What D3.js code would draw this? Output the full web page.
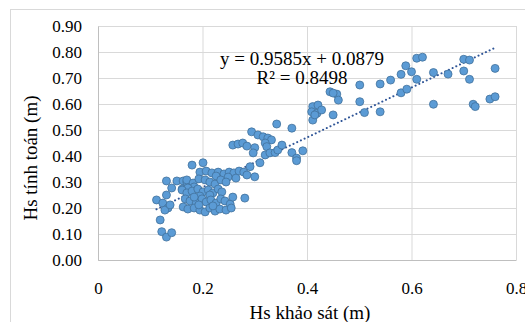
<!DOCTYPE html>
<html>
<head>
<meta charset="utf-8">
<script src="https://cdn.jsdelivr.net/npm/d3@7"></script>
<style>
  html, body { margin: 0; padding: 0; background: #fff; }
  svg { display: block; }
  .tick text, .label { font-family: "Liberation Serif", "Times New Roman", serif; fill: #000; }
</style>
</head>
<body>
<svg id="chart" width="525" height="322"></svg>
<script>
const hsSurvey = [
  0.131, 0.151, 0.163, 0.141, 0.161, 0.131, 0.112, 0.124, 0.134, 0.128, 0.163, 0.119, 0.122, 0.131, 0.141, 0.138, 0.170,
  0.180, 0.201, 0.195, 0.207, 0.218, 0.230, 0.241, 0.251, 0.260, 0.270, 0.279, 0.285, 0.249, 0.264, 0.226,
  0.170, 0.182, 0.193, 0.205, 0.214, 0.224, 0.235, 0.245, 0.184, 0.172,
  0.161, 0.170, 0.180, 0.191, 0.201, 0.211, 0.220, 0.230, 0.237, 0.195, 0.214,
  0.167, 0.176, 0.188, 0.199, 0.207, 0.216, 0.226, 0.235, 0.243, 0.253, 0.258, 0.281, 0.184,
  0.172, 0.184, 0.195, 0.205, 0.214, 0.224, 0.233, 0.245, 0.255, 0.193, 0.220,
  0.291, 0.310, 0.300, 0.258, 0.268, 0.277, 0.285, 0.300, 0.297, 0.294, 0.306, 0.316, 0.325, 0.332,
  0.320, 0.323, 0.342, 0.371, 0.320, 0.329, 0.339, 0.344, 0.352, 0.371, 0.380, 0.380, 0.392,
  0.411, 0.421, 0.409, 0.419, 0.428, 0.411, 0.450, 0.444, 0.457, 0.460, 0.415, 0.450,
  0.501, 0.501, 0.510, 0.540, 0.540, 0.560, 0.580, 0.589, 0.600, 0.610, 0.580, 0.591, 0.610, 0.621,
  0.642, 0.642, 0.670, 0.700, 0.700, 0.711, 0.711, 0.718, 0.722, 0.750, 0.760, 0.760
];
const hsComputed = [
  0.304, 0.304, 0.304, 0.277, 0.273, 0.250, 0.231, 0.219, 0.200, 0.192, 0.204, 0.154, 0.109, 0.088, 0.105, 0.212, 0.300,
  0.365, 0.374, 0.338, 0.342, 0.335, 0.338, 0.331, 0.338, 0.335, 0.342, 0.338, 0.327, 0.319, 0.315, 0.323,
  0.308, 0.296, 0.312, 0.308, 0.300, 0.292, 0.308, 0.300, 0.281, 0.277,
  0.269, 0.258, 0.265, 0.273, 0.262, 0.269, 0.258, 0.273, 0.262, 0.246, 0.250,
  0.235, 0.227, 0.219, 0.235, 0.223, 0.231, 0.219, 0.235, 0.227, 0.215, 0.242, 0.238, 0.242,
  0.196, 0.200, 0.192, 0.185, 0.200, 0.188, 0.196, 0.192, 0.200, 0.212, 0.208,
  0.359, 0.374, 0.320, 0.442, 0.446, 0.450, 0.438, 0.432, 0.412, 0.493, 0.481, 0.474, 0.469, 0.462,
  0.450, 0.436, 0.523, 0.507, 0.404, 0.412, 0.413, 0.423, 0.442, 0.413, 0.392, 0.382, 0.420,
  0.590, 0.596, 0.570, 0.564, 0.577, 0.538, 0.558, 0.647, 0.638, 0.615, 0.558, 0.642,
  0.673, 0.609, 0.567, 0.570, 0.677, 0.692, 0.714, 0.747, 0.724, 0.695, 0.643, 0.657, 0.776, 0.780,
  0.721, 0.599, 0.715, 0.727, 0.772, 0.769, 0.695, 0.599, 0.590, 0.619, 0.628, 0.737
];
const xTicks = [0, 0.2, 0.4, 0.6, 0.8];
const yTicks = [0, 0.1, 0.2, 0.3, 0.4, 0.5, 0.6, 0.7, 0.8, 0.9];
const trendSlope = 0.9585;
const trendIntercept = 0.0879;
const equationLabel = "y = 0.9585x + 0.0879";
const r2Label = "R² = 0.8498";
const xTitle = "Hs khảo sát (m)";
const yTitle = "Hs tính toán (m)";

const points = hsSurvey.map((x, i) => ({x: x, y: hsComputed[i]}));

const svg = d3.select('#chart');
const margin = {left: 98, top: 26, right: 516, bottom: 260};

const xScale = d3.scaleLinear().domain([0, 0.8]).range([margin.left, margin.right]);
const yScale = d3.scaleLinear().domain([0, 0.9]).range([margin.bottom, margin.top]);

// outer chart frame
svg.append('rect')
  .attr('x', 10.5).attr('y', 9.5)
  .attr('width', 600).attr('height', 400)
  .attr('fill', '#fff')
  .attr('stroke', '#d9d9d9');

// gridlines
svg.append('g')
  .attr('transform', `translate(0,${margin.bottom})`)
  .call(d3.axisBottom(xScale).tickValues(xTicks).tickSize(-(margin.bottom - margin.top)).tickFormat(''))
  .call(g => g.select('.domain').remove())
  .call(g => g.selectAll('line').attr('stroke', '#d9d9d9'));

svg.append('g')
  .attr('transform', `translate(${margin.left},0)`)
  .call(d3.axisLeft(yScale).tickValues(yTicks).tickSize(-(margin.right - margin.left)).tickFormat(''))
  .call(g => g.select('.domain').remove())
  .call(g => g.selectAll('line').attr('stroke', '#d9d9d9'));

// axes
const xAxis = svg.append('g')
  .attr('transform', `translate(0,${margin.bottom})`)
  .call(d3.axisBottom(xScale).tickValues(xTicks).tickSize(0).tickPadding(22).tickFormat(d => d === 0 ? '0' : d3.format('.1f')(d)));
xAxis.select('.domain').attr('stroke', '#bfbfbf');
xAxis.selectAll('text').attr('font-size', 17);

const yAxis = svg.append('g')
  .attr('transform', `translate(${margin.left},0)`)
  .call(d3.axisLeft(yScale).tickValues(yTicks).tickSize(0).tickPadding(16).tickFormat(d3.format('.2f')));
yAxis.select('.domain').attr('stroke', '#bfbfbf');
yAxis.selectAll('text').attr('font-size', 17);

// trendline
const xExtent = d3.extent(hsSurvey);
const trend = xExtent.map(x => ({x: x, y: trendSlope * x + trendIntercept}));
const line = d3.line().x(d => xScale(d.x)).y(d => yScale(d.y));
svg.append('path')
  .attr('d', line(trend))
  .attr('fill', 'none')
  .attr('stroke', '#2f5597')
  .attr('stroke-width', 2)
  .attr('stroke-linecap', 'round')
  .attr('stroke-dasharray', '0.1,4');

// points
svg.append('g')
  .selectAll('circle')
  .data(points)
  .enter()
  .append('circle')
  .attr('cx', d => xScale(d.x))
  .attr('cy', d => yScale(d.y))
  .attr('r', 4)
  .attr('fill', '#5b9bd5')
  .attr('stroke', '#41719c')
  .attr('stroke-width', 0.8);

// trendline label
svg.append('text').attr('class', 'label')
  .attr('x', 302).attr('y', 65)
  .attr('text-anchor', 'middle')
  .attr('font-size', 19)
  .text(equationLabel);
svg.append('text').attr('class', 'label')
  .attr('x', 302).attr('y', 84)
  .attr('text-anchor', 'middle')
  .attr('font-size', 19)
  .text(r2Label);

// axis titles
svg.append('text').attr('class', 'label')
  .attr('x', 310).attr('y', 319)
  .attr('text-anchor', 'middle')
  .attr('font-size', 19)
  .text(xTitle);
svg.append('text').attr('class', 'label')
  .attr('transform', 'translate(37,158) rotate(-90)')
  .attr('text-anchor', 'middle')
  .attr('font-size', 19)
  .text(yTitle);
</script>
</body>
</html>
